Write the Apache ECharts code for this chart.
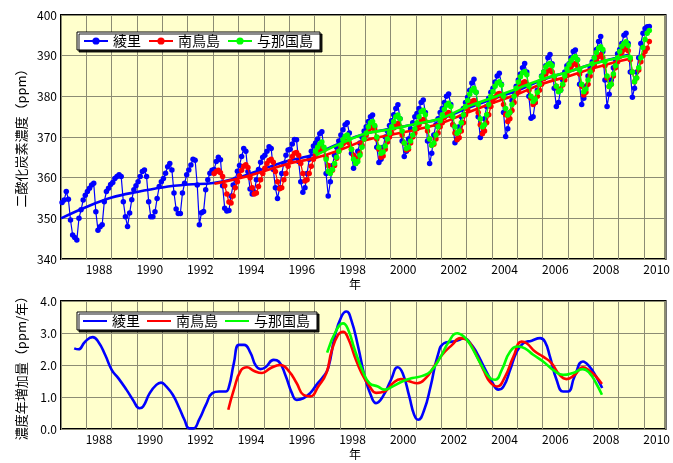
<!DOCTYPE html>
<html>
<head>
<meta charset="utf-8">
<script src="https://cdn.jsdelivr.net/npm/echarts@6/dist/echarts.min.js"></script>
<style>
html,body{margin:0;padding:0;background:#fff;}
#chart{width:673px;height:463px;}
</style>
</head>
<body>
<div id="chart"></div>
<script>
// ---- DATA ----
const stationNames = ['綾里', '南鳥島', '与那国島'];
const stationColors = ['#0000ff', '#ff0000', '#00ff00'];

// Monthly CO2 (ppm). Ryori from Jan 1987, Minamitorishima from Jan 1993, Yonagunijima from Jan 1997
const ryoriStartYear = 1987;
const ryoriMonthly = [
  353.9,354.5,356.6,354.7,349.6,345.9,345.3,344.7,350.0,352.1,354.5,355.7,
  356.6,357.4,358.2,358.6,351.6,347.1,347.9,348.4,354.1,356.6,357.4,358.3,
  358.8,359.8,360.3,360.7,360.3,354.1,350.4,348.0,351.3,354.6,357.0,358.0,
  359.0,360.3,361.5,361.9,360.3,354.1,350.4,350.4,351.6,354.9,357.8,359.0,
  359.8,361.1,362.7,363.5,361.9,356.2,352.3,351.2,351.2,356.2,358.6,360.7,
  361.9,363.1,364.5,364.3,358.2,348.4,351.4,351.7,357.0,359.5,361.1,361.8,
  362.0,364.0,365.0,364.4,358.0,352.5,351.8,351.9,355.5,358.2,359.6,361.6,
  363.0,365.2,367.2,366.5,361.5,357.2,356.0,356.5,359.5,362.0,363.8,365.0,
  365.5,366.5,367.6,367.2,362.0,357.5,354.9,357.5,361.0,363.5,365.5,366.8,
  367.0,368.3,369.4,369.3,364.0,359.0,356.4,357.5,361.0,364.5,366.5,367.8,
  368.5,369.5,370.8,371.3,367.0,361.0,355.5,359.0,363.0,365.5,367.5,369.0,
  370.5,371.8,373.0,373.5,371.0,366.0,362.3,363.5,366.5,368.5,370.0,371.5,
  372.5,373.8,375.0,375.4,372.5,367.5,363.7,364.5,367.5,370.0,371.5,372.8,
  374.0,375.5,377.0,377.9,374.5,369.0,365.2,366.5,369.5,372.0,373.5,375.0,
  375.8,377.0,378.5,379.1,376.0,369.0,363.5,366.0,370.5,373.0,374.5,376.0,
  377.0,378.5,380.0,380.6,378.0,373.0,368.6,369.5,372.5,375.0,377.0,378.5,
  379.8,381.5,383.3,384.2,381.0,375.0,369.9,371.0,374.5,377.5,379.5,381.0,
  382.0,383.5,385.0,385.7,383.0,376.0,370.1,372.0,376.0,379.0,381.0,382.5,
  384.0,385.5,387.0,388.1,386.0,380.0,374.6,375.0,378.5,381.5,383.5,385.0,
  386.0,387.5,389.5,390.3,388.0,382.0,377.5,378.5,381.5,384.0,386.0,387.5,
  388.0,389.5,391.0,391.4,389.0,383.0,378.0,379.5,382.5,385.0,387.0,388.5,
  389.5,391.5,393.5,394.7,391.0,384.0,377.5,380.5,384.0,387.0,389.0,390.5,
  391.5,393.0,395.0,395.5,393.0,386.0,379.8,382.0,386.0,389.5,393.0,395.5,
  396.7,397.1,397.2
];

const minamiStartYear = 1993;
const minamiMonthly = [
  361.0,361.5,361.8,361.2,360.3,358.0,356.0,354.0,353.8,355.5,357.5,359.0,
  360.5,361.8,362.8,363.2,362.5,360.0,357.5,356.0,356.2,357.8,359.5,361.0,
  362.3,363.5,364.2,364.5,363.8,361.5,359.0,357.3,357.5,359.5,361.0,362.8,
  364.0,365.2,366.0,366.2,365.5,363.5,361.0,359.2,359.5,361.0,362.8,364.5,
  365.5,366.5,367.2,367.5,366.8,365.0,363.0,361.5,361.8,363.0,364.8,366.5,
  367.5,368.3,368.8,369.0,368.5,367.0,365.5,364.5,364.8,366.0,368.0,369.5,
  370.5,371.5,372.2,372.5,371.8,369.5,367.0,365.0,365.3,367.0,368.8,370.0,
  371.0,372.2,373.0,373.3,372.5,370.5,368.5,366.8,367.0,368.5,370.0,371.0,
  372.0,373.0,374.0,374.3,373.8,371.5,369.5,368.0,368.2,369.5,371.0,372.5,
  373.5,374.8,375.6,376.0,375.3,373.0,371.0,369.3,369.8,371.5,373.5,375.5,
  376.8,378.0,378.7,379.0,378.3,376.0,373.0,370.8,371.5,373.5,375.5,377.5,
  378.8,379.8,380.5,380.7,380.0,378.0,375.5,373.8,374.5,376.5,378.5,380.5,
  381.5,382.5,383.3,383.6,383.0,381.5,379.5,378.0,378.5,380.0,381.5,383.0,
  384.3,385.5,386.2,386.5,386.0,384.5,382.5,381.6,381.8,382.8,384.0,385.5,
  386.5,387.3,387.9,388.1,387.5,385.5,382.5,380.3,381.0,383.0,385.0,386.5,
  387.8,388.8,389.8,390.2,389.5,387.5,384.5,382.4,383.0,385.0,387.0,388.5,
  389.8,390.8,391.5,391.8,391.2,389.0,386.0,383.6,384.5,386.5,388.5,390.0,
  391.0,391.8,393.5
];

const yonaguniStartYear = 1997;
const yonaguniMonthly = [
  366.5,367.5,368.3,368.8,367.5,364.5,361.5,361.0,362.0,363.5,365.0,366.5,
  368.0,369.3,370.2,370.5,369.5,367.0,364.5,363.5,364.0,365.5,367.5,369.5,
  371.0,372.5,373.5,373.8,372.8,370.0,367.5,366.0,366.3,367.8,369.5,371.0,
  372.5,373.8,375.0,375.4,374.5,371.5,368.5,367.2,367.5,369.0,370.5,372.0,
  373.5,375.0,376.2,376.6,375.5,372.5,369.5,368.0,368.5,370.5,372.5,374.0,
  375.5,376.8,377.8,378.3,377.5,375.0,372.5,370.9,371.5,373.5,375.5,377.5,
  379.0,380.5,381.5,382.0,381.0,378.0,374.5,372.5,373.0,375.5,378.0,380.0,
  381.2,382.5,383.3,383.6,382.8,380.0,377.0,375.4,376.0,378.0,380.0,382.0,
  383.5,384.8,385.8,386.1,385.3,382.5,380.0,378.7,379.3,381.0,383.0,384.8,
  386.0,387.2,387.8,388.1,387.5,385.0,382.5,381.1,381.5,383.0,385.0,386.8,
  387.8,388.8,389.5,389.8,389.0,386.5,383.0,381.1,381.8,384.0,386.0,388.0,
  389.5,390.8,391.8,392.2,391.5,388.5,385.0,382.4,383.0,385.5,387.5,389.5,
  391.0,392.3,393.0,393.4,392.5,389.5,386.0,383.6,384.5,387.0,389.5,392.0,
  394.0,395.5,396.2
];

// Deseasonalised trend: [year, ppm]
const ryoriTrend = [[1987,350.0],[1988,352.8],[1989,355.1],[1990,356.5],[1991,357.6],[1992,358.3],[1993,358.7],[1994,360.0],[1995,362.2],[1996,364.2],[1997,365.7],[1998,368.5],[1999,370.8],[2000,372.0],[2001,373.2],[2002,374.5],[2003,377.0],[2004,379.3],[2005,381.4],[2006,384.1],[2007,386.0],[2008,388.0],[2009,389.6],[2009.4,390.2]];
const minamiTrend = [[1993.05,358.5],[1994,359.8],[1995,361.6],[1996,363.5],[1997,364.8],[1998,366.8],[1999,369.2],[2000,370.5],[2001,371.8],[2002,373.4],[2003,375.9],[2004,378.3],[2005,380.5],[2006,383.1],[2007,384.9],[2008,386.9],[2009,388.6],[2009.4,389.2]];
const yonaguniTrend = [[1997.05,365.5],[1998,368.3],[1999,370.8],[2000,371.9],[2001,373.2],[2002,374.6],[2003,377.4],[2004,379.6],[2005,381.9],[2006,384.2],[2007,386.0],[2008,388.0],[2009,389.5],[2009.4,390.0]];

// Growth rate (ppm/year): [year, value]
const ryoriRate = [[1987.52,2.52],[1987.69,2.49],[1987.95,2.73],[1988.25,2.87],[1988.47,2.73],[1988.74,2.32],[1989.0,1.85],[1989.26,1.59],[1989.58,1.23],[1989.84,0.91],[1990.1,0.65],[1990.24,0.70],[1990.5,1.12],[1990.76,1.38],[1990.95,1.45],[1991.15,1.33],[1991.41,1.07],[1991.67,0.65],[1991.87,0.29],[1992.06,0.02],[1992.22,0.02],[1992.45,0.29],[1992.72,0.76],[1992.97,1.12],[1993.24,1.17],[1993.5,1.17],[1993.63,1.33],[1993.82,2.06],[1994.02,2.63],[1994.22,2.63],[1994.48,2.37],[1994.67,2.0],[1994.87,1.87],[1995.07,1.93],[1995.39,2.16],[1995.59,2.11],[1995.85,1.69],[1996.11,1.12],[1996.3,0.91],[1996.56,0.96],[1996.83,1.12],[1997.08,1.38],[1997.35,1.64],[1997.54,1.90],[1997.8,2.89],[1998.06,3.51],[1998.26,3.67],[1998.45,3.41],[1998.72,2.58],[1998.98,1.64],[1999.24,1.02],[1999.43,0.81],[1999.7,1.02],[2000.02,1.54],[2000.28,1.93],[2000.48,1.74],[2000.74,1.02],[2000.93,0.45],[2001.09,0.29],[2001.33,0.60],[2001.58,1.33],[2001.85,2.26],[2002.11,2.68],[2002.43,2.73],[2002.7,2.78],[2002.89,2.84],[2003.15,2.68],[2003.41,2.37],[2003.68,1.95],[2004.0,1.48],[2004.26,1.23],[2004.46,1.33],[2004.72,1.85],[2004.98,2.42],[2005.24,2.68],[2005.57,2.76],[2005.9,2.84],[2006.09,2.73],[2006.29,2.26],[2006.55,1.54],[2006.81,1.17],[2007.0,1.17],[2007.26,1.64],[2007.59,2.11],[2007.85,1.95],[2008.11,1.64],[2008.35,1.28]];
const minamiRate = [[1993.6,0.60],[1993.82,1.23],[1994.09,1.82],[1994.34,1.93],[1994.6,1.82],[1994.93,1.75],[1995.26,1.90],[1995.65,2.0],[1995.98,1.82],[1996.3,1.43],[1996.56,1.07],[1996.83,1.02],[1997.15,1.33],[1997.47,1.75],[1997.67,2.42],[1997.93,2.94],[1998.13,3.04],[1998.33,2.83],[1998.59,2.26],[1998.85,1.76],[1999.17,1.34],[1999.43,1.13],[1999.76,1.17],[2000.09,1.43],[2000.41,1.56],[2000.74,1.49],[2001.06,1.43],[2001.39,1.59],[2001.72,1.95],[2002.04,2.32],[2002.43,2.63],[2002.76,2.84],[2003.02,2.78],[2003.35,2.37],[2003.68,1.82],[2003.93,1.46],[2004.2,1.33],[2004.52,1.64],[2004.85,2.26],[2005.17,2.73],[2005.37,2.68],[2005.7,2.42],[2006.02,2.26],[2006.35,2.06],[2006.67,1.69],[2006.94,1.56],[2007.26,1.69],[2007.59,1.93],[2007.85,1.82],[2008.11,1.64],[2008.34,1.41]];
const yonaguniRate = [[1997.5,2.39],[1997.87,3.10],[1998.13,3.30],[1998.33,3.10],[1998.59,2.47],[1998.91,1.80],[1999.17,1.43],[1999.5,1.33],[1999.76,1.23],[2000.09,1.33],[2000.48,1.49],[2000.87,1.59],[2001.26,1.66],[2001.58,1.80],[2001.98,2.26],[2002.3,2.73],[2002.63,2.99],[2002.89,2.89],[2003.15,2.63],[2003.54,2.06],[2003.93,1.59],[2004.13,1.54],[2004.39,1.85],[2004.72,2.42],[2005.04,2.58],[2005.3,2.52],[2005.63,2.32],[2006.02,2.11],[2006.41,1.85],[2006.81,1.69],[2007.2,1.75],[2007.59,1.87],[2007.85,1.75],[2008.11,1.43],[2008.34,1.07]];

// Axis settings (years / ppm)
const xMin = 1987, xMax = 2010.85;
const topYMin = 340, topYMax = 400, topYStep = 10;
const botYMin = 0, botYMax = 4, botYStep = 1;
const topYName = '二酸化炭素濃度（ppm）';
const botYName = '濃度年増加量（ppm/年）';
const xName = '年';

// ---- CHART ----
function monthly(startYear, vals) {
  return vals.map((v, i) => [startYear + (i + 0.5) / 12, v]);
}
const FONT = "'Noto Sans CJK JP', 'DejaVu Sans', sans-serif";
const GRIDC = '#8c8c74';
const gridL = 61, gridW = 609;

function labelFmt(v) {
  const y = v - 0.5;
  const r = Math.round(y);
  if (Math.abs(y - r) < 1e-6 && r % 2 === 0) return String(r);
  return '';
}
function xAxes(gi) {
  return [
    { gridIndex: gi, type: 'value', position: 'bottom', min: xMin, max: xMax, interval: 1,
      axisLine: { show: false }, axisTick: { show: false }, axisLabel: { show: false },
      splitLine: { show: true, lineStyle: { color: GRIDC, width: 1 } } },
    { gridIndex: gi, type: 'value', position: 'bottom', min: xMin, max: xMax, interval: 0.5,
      axisLine: { show: false }, axisTick: { show: false }, splitLine: { show: false },
      axisLabel: { formatter: labelFmt, margin: 4, color: '#000', fontSize: 12, fontFamily: FONT } }
  ];
}

const series = [];
const monthlySets = [
  [ryoriStartYear, ryoriMonthly, ryoriTrend],
  [minamiStartYear, minamiMonthly, minamiTrend],
  [yonaguniStartYear, yonaguniMonthly, yonaguniTrend]
];
monthlySets.forEach((s, k) => {
  series.push({
    name: stationNames[k], type: 'line', xAxisIndex: 0, yAxisIndex: 0,
    data: monthly(s[0], s[1]), symbol: 'circle', symbolSize: 5.5, showSymbol: true,
    itemStyle: { color: stationColors[k] },
    lineStyle: { color: stationColors[k], width: 1.2 }, z: 3 + k
  });
  series.push({
    name: stationNames[k] + '_trend', type: 'line', xAxisIndex: 0, yAxisIndex: 0,
    data: s[2], symbol: 'none', smooth: 0.4,
    lineStyle: { color: stationColors[k], width: 2.6 }, z: 3 + k
  });
});
[ryoriRate, minamiRate, yonaguniRate].forEach((d, k) => {
  series.push({
    name: stationNames[k], type: 'line', xAxisIndex: 2, yAxisIndex: 1,
    data: d, symbol: 'none', smooth: 0.5,
    lineStyle: { color: stationColors[k], width: 2.6 }, itemStyle: { color: stationColors[k] }, z: 3 + k
  });
});

const legendBase = {
  orient: 'horizontal', left: 77, data: stationNames,
  backgroundColor: '#ffffff', borderColor: '#000', borderWidth: 1,
  shadowColor: 'rgba(0,0,0,0.9)', shadowBlur: 0, shadowOffsetX: 2, shadowOffsetY: 2,
  padding: [2, 7, 2, 6], itemGap: 7, itemWidth: 24,
  textStyle: { fontSize: 14, color: '#000', fontFamily: FONT },
  selectedMode: false
};

const option = {
  animation: false,
  backgroundColor: '#ffffff',
  textStyle: { fontFamily: FONT },
  grid: [
    { left: gridL, top: 15, width: gridW, height: 244, show: true, backgroundColor: '#ffffcc', borderColor: '#000', borderWidth: 2 },
    { left: gridL, top: 301, width: gridW, height: 128, show: true, backgroundColor: '#ffffcc', borderColor: '#000', borderWidth: 2 }
  ],
  xAxis: xAxes(0).concat(xAxes(1)),
  yAxis: [
    { gridIndex: 0, type: 'value', min: topYMin, max: topYMax, interval: topYStep,
      axisLine: { show: false }, axisTick: { show: false },
      splitLine: { show: true, lineStyle: { color: GRIDC, width: 1 } },
      axisLabel: { margin: 4, color: '#000', fontSize: 12, fontFamily: FONT } },
    { gridIndex: 1, type: 'value', min: botYMin, max: botYMax, interval: botYStep,
      axisLine: { show: false }, axisTick: { show: false },
      splitLine: { show: true, lineStyle: { color: GRIDC, width: 1 } },
      axisLabel: { margin: 4, color: '#000', fontSize: 12, fontFamily: FONT, formatter: v => v.toFixed(1) } }
  ],
  legend: [
    Object.assign({}, legendBase, { top: 32, itemHeight: 9, lineStyle: { width: 2 } }),
    Object.assign({}, legendBase, { top: 312, itemHeight: 14,
      data: stationNames.map(n => ({ name: n, icon: 'path://M0,6 L24,6 L24,8 L0,8 Z' })) })
  ],
  graphic: [
    { type: 'text', x: 21, y: 135, rotation: Math.PI / 2,
      style: { text: topYName, font: "13px 'Noto Sans CJK JP'", fill: '#000', textAlign: 'center', textVerticalAlign: 'middle' } },
    { type: 'text', x: 21, y: 365, rotation: Math.PI / 2,
      style: { text: botYName, font: "13px 'Noto Sans CJK JP'", fill: '#000', textAlign: 'center', textVerticalAlign: 'middle' } },
    { type: 'text', x: 355, y: 284,
      style: { text: xName, font: "12px 'Noto Sans CJK JP'", fill: '#000', textAlign: 'center', textVerticalAlign: 'middle' } },
    { type: 'text', x: 355, y: 454,
      style: { text: xName, font: "12px 'Noto Sans CJK JP'", fill: '#000', textAlign: 'center', textVerticalAlign: 'middle' } }
  ],
  series: series
};

const chart = echarts.init(document.getElementById('chart'), null, { renderer: 'canvas' });
chart.setOption(option);
</script>
</body>
</html>
